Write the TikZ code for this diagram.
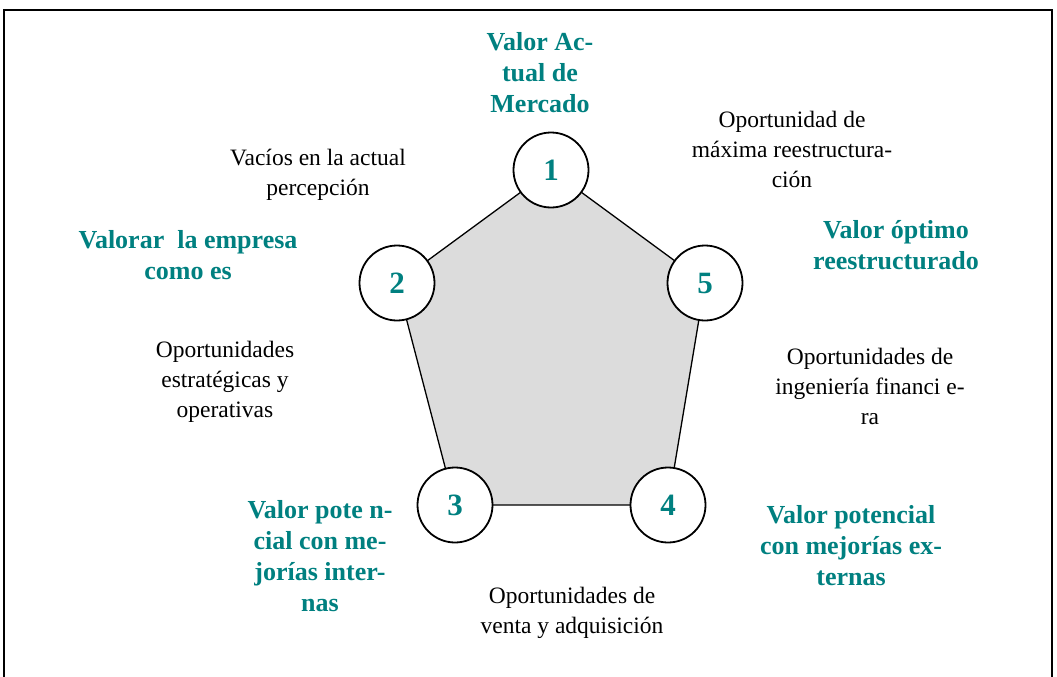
\documentclass[tikz,border=0pt]{standalone}
\usepackage{fontspec}
\setmainfont{Liberation Serif}
\definecolor{valteal}{RGB}{0,128,128}
\definecolor{pentgray}{RGB}{220,220,220}
\begin{document}
\begin{tikzpicture}[x=1pt,y=-1pt,
  etapa/.style={circle,draw=black,line width=1.8pt,fill=white,minimum size=75pt,inner sep=0pt,
    font=\fontsize{31}{34}\selectfont\bfseries,text=valteal},
  valor/.style={align=center,font=\fontsize{26}{31}\selectfont\bfseries,text=valteal},
  oport/.style={align=center,font=\fontsize{23.5}{30}\selectfont}]
  \useasboundingbox (0,0) rectangle (1057,677);
  \draw[line width=1.2pt] (4,690)--(4,10)--(1052,10)--(1052,690);

  % vertices of the pentagon
  \coordinate (p1) at (551,170);
  \coordinate (p2) at (397,283);
  \coordinate (p3) at (455,505);
  \coordinate (p4) at (668,505);
  \coordinate (p5) at (705,283);
  \filldraw[fill=pentgray,draw=black,line width=1.3pt] (p1)--(p2)--(p3)--(p4)--(p5)--cycle;

  \node[etapa] (c1) at (p1) {1};
  \node[etapa] (c2) at (p2) {2};
  \node[etapa] (c3) at (p3) {3};
  \node[etapa] (c4) at (p4) {4};
  \node[etapa] (c5) at (p5) {5};

  % values
  \node[valor] (v1) at (540,73) {Valor Ac-\\tual de\\Mercado};
  \node[valor] (v2) at (188,255) {Valorar\ \ la empresa\\como es};
  \node[valor] (v3) at (320,556) {Valor pote n-\\cial con me-\\jorías inter-\\nas};
  \node[valor] (v4) at (851,546) {Valor potencial\\con mejorías ex-\\ternas};
  \node[valor] (v5) at (896,245) {Valor óptimo\\reestructurado};

  % opportunities
  \node[oport] (o12) at (318,175) {Vacíos en la actual\\percepción};
  \node[oport] (o23) at (225,382) {Oportunidades\\estratégicas y\\operativas};
  \node[oport] (o34) at (572,613) {Oportunidades de\\venta y adquisición};
  \node[oport] (o45) at (870,386) {Oportunidades de\\ingeniería financi e-\\ra};
  \node[oport] (o51) at (792,149) {Oportunidad de\\máxima reestructura-\\ción};
\end{tikzpicture}
\end{document}
